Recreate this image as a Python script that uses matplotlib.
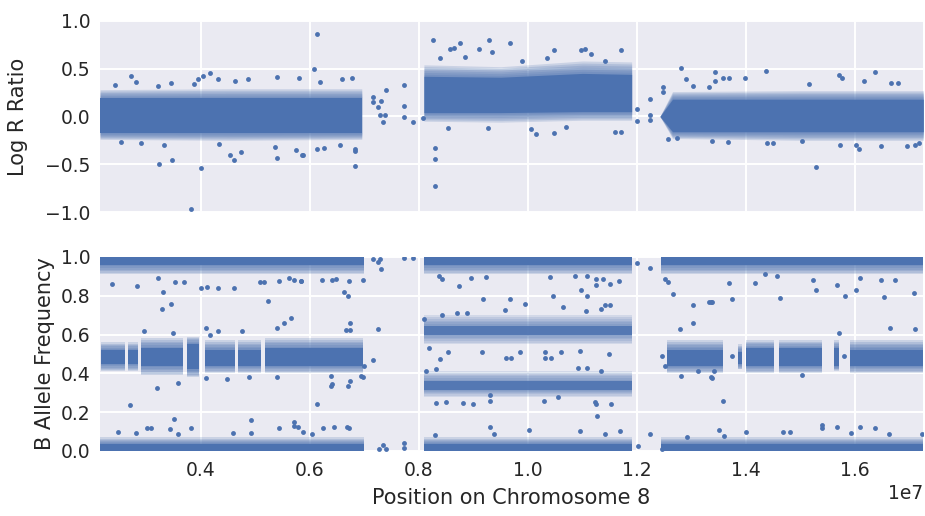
"""Log R Ratio / B Allele Frequency along chromosome 8.

Dense marker clouds are drawn as filled bands (solid core + soft fringe),
sparse outlier markers are listed point by point.
"""

import matplotlib
matplotlib.use('Agg')
import matplotlib.pyplot as plt

BLUE = '#4C72B0'

# ---- Log R Ratio: dense clouds (x nodes, core lo/hi, fringe lo/hi) ----
lrr_band_x = [
    [2.15e6, 4.5e6, 6.95e6],
    [8.09e6, 9.5e6, 11.0e6, 11.9e6],
    [12.42e6, 12.65e6, 15.0e6, 17.25e6],
]
lrr_core_lo = [[-0.17, -0.17, -0.17], [0.04, 0.04, 0.05, 0.05], [0.0, -0.16, -0.16, -0.16]]
lrr_core_hi = [[0.19, 0.19, 0.19], [0.42, 0.41, 0.45, 0.44], [0.0, 0.18, 0.18, 0.18]]
lrr_fringe_lo = [[-0.24, -0.25, -0.24], [-0.05, -0.06, -0.04, -0.04], [0.0, -0.23, -0.25, -0.25]]
lrr_fringe_hi = [[0.28, 0.29, 0.29], [0.54, 0.52, 0.58, 0.57], [0.0, 0.26, 0.27, 0.27]]

# ---- Log R Ratio: sparse markers ----
lrr_out_x = [2.72e6, 2.43e6, 2.80e6, 3.21e6, 3.46e6, 3.87e6, 3.95e6, 4.04e6, 4.16e6, 4.31e6,
             4.62e6, 4.86e6, 5.40e6, 5.79e6, 2.53e6, 2.91e6, 3.23e6, 3.47e6, 4.00e6, 3.82e6,
             3.33e6, 4.53e6, 4.61e6, 4.74e6, 5.39e6, 5.35e6, 5.75e6, 5.86e6, 4.34e6,
             6.12e6, 6.07e6, 6.18e6, 6.58e6, 6.78e6, 6.13e6, 6.26e6, 6.55e6, 6.83e6, 6.83e6,
             6.83e6, 5.87e6,
             7.16e6, 7.16e6, 7.31e6, 7.39e6, 7.25e6, 7.28e6, 7.37e6, 7.34e6, 7.72e6, 7.72e6,
             7.72e6, 7.89e6, 8.08e6,
             8.26e6, 8.56e6, 8.65e6, 8.76e6, 9.28e6, 9.10e6, 9.33e6, 8.29e6, 8.29e6, 8.29e6,
             8.54e6, 9.27e6, 8.38e6, 8.84e6,
             9.66e6, 10.48e6, 10.97e6, 11.04e6, 11.15e6, 11.71e6, 10.34e6, 9.89e6, 11.41e6,
             10.15e6, 10.06e6, 10.48e6, 10.70e6, 11.59e6, 11.70e6,
             11.99e6, 11.99e6, 12.24e6, 12.24e6, 12.24e6, 12.47e6, 12.47e6,
             12.80e6, 12.89e6, 13.03e6, 13.32e6, 12.57e6, 12.74e6,
             14.36e6, 13.43e6, 13.57e6, 13.69e6, 13.98e6, 13.43e6, 15.15e6, 15.70e6, 15.76e6,
             16.16e6, 16.37e6, 16.65e6, 16.79e6, 15.29e6, 16.07e6, 16.01e6, 15.73e6, 16.48e6,
             16.95e6, 17.10e6, 14.39e6, 14.49e6, 13.67e6, 15.02e6, 13.37e6, 17.17e6]
lrr_out_y = [0.42, 0.33, 0.36, 0.32, 0.35, 0.34, 0.39, 0.42, 0.45, 0.39,
             0.37, 0.39, 0.41, 0.40, -0.27, -0.28, -0.50, -0.46, -0.54, -0.97,
             -0.30, -0.40, -0.46, -0.37, -0.43, -0.32, -0.35, -0.40, -0.29,
             0.86, 0.50, 0.36, 0.39, 0.40, -0.345, -0.33, -0.30, -0.34, -0.36,
             -0.52, -0.40,
             0.205, 0.15, 0.16, 0.28, 0.10, 0.02, 0.01, -0.055, 0.33, 0.11,
             -0.01, -0.055, -0.02,
             0.80, 0.71, 0.72, 0.77, 0.80, 0.70, 0.67, -0.33, -0.45, -0.73,
             -0.125, -0.12, 0.61, 0.62,
             0.77, 0.69, 0.69, 0.70, 0.65, 0.69, 0.61, 0.58, 0.58,
             -0.185, -0.13, -0.17, -0.11, -0.16, -0.16,
             0.08, -0.05, 0.18, 0.02, -0.04, 0.31, 0.26,
             0.51, 0.39, 0.32, 0.31, -0.24, -0.23,
             0.48, 0.46, 0.40, 0.40, 0.40, 0.37, 0.34, 0.43, 0.40,
             0.37, 0.46, 0.35, 0.35, -0.53, -0.34, -0.30, -0.30, -0.31,
             -0.31, -0.30, -0.28, -0.28, -0.27, -0.26, -0.26, -0.28]

# ---- B Allele Frequency: homozygous bands near 0 and 1 ----
baf_seg_start = [2.15e6, 8.09e6, 12.44e6]
baf_seg_end = [7.0e6, 11.9e6, 17.25e6]
baf_top_core = [0.96, 0.96, 0.96]
baf_top_fringe = [0.91, 0.91, 0.91]
baf_bot_core = [0.035, 0.035, 0.035]
baf_bot_fringe = [0.07, 0.07, 0.07]

# ---- B Allele Frequency: heterozygous clusters (start, end, core lo/hi, fringe lo/hi) ----
het_start = [2.16e6, 2.66e6, 2.91e6, 3.75e6, 4.07e6, 4.68e6, 5.17e6,
             12.55e6, 13.85e6, 14.0e6, 14.6e6, 15.62e6, 15.9e6]
het_end = [2.60e6, 2.84e6, 3.67e6, 3.96e6, 4.62e6, 5.11e6, 6.97e6,
           13.57e6, 13.92e6, 14.52e6, 15.4e6, 15.70e6, 17.25e6]
het_core_lo = [0.45, 0.45, 0.44, 0.42, 0.44, 0.44, 0.44,
               0.44, 0.45, 0.44, 0.44, 0.44, 0.44]
het_core_hi = [0.52, 0.52, 0.53, 0.55, 0.52, 0.52, 0.53,
               0.52, 0.51, 0.53, 0.53, 0.53, 0.52]
het_fringe_lo = [0.41, 0.41, 0.39, 0.38, 0.40, 0.40, 0.40,
                 0.40, 0.42, 0.40, 0.40, 0.41, 0.40]
het_fringe_hi = [0.56, 0.56, 0.58, 0.59, 0.57, 0.57, 0.58,
                 0.57, 0.55, 0.57, 0.57, 0.57, 0.57]

# allelic imbalance bands in the gained region
imb_start = [8.09e6, 8.09e6]
imb_end = [11.9e6, 11.9e6]
imb_core_lo = [0.60, 0.315]
imb_core_hi = [0.645, 0.36]
imb_fringe_lo = [0.55, 0.28]
imb_fringe_hi = [0.70, 0.41]

# ---- B Allele Frequency: sparse markers ----
baf_out_x = [2.37e6, 2.83e6, 3.30e6, 3.53e6, 3.69e6, 3.21e6, 4.01e6, 4.11e6, 4.32e6, 4.60e6,
             5.08e6, 5.16e6, 5.43e6, 5.61e6, 5.71e6, 5.83e6, 5.23e6, 3.29e6, 3.45e6, 5.65e6,
             5.52e6, 5.39e6, 2.95e6, 3.49e6, 4.10e6, 4.32e6, 4.75e6, 4.16e6, 3.19e6, 3.58e6,
             2.70e6, 4.10e6, 4.47e6, 4.88e6, 5.40e6, 3.50e6, 3.01e6, 3.08e6, 2.48e6, 2.80e6,
             3.44e6, 3.58e6, 3.82e6, 4.92e6, 4.92e6, 4.58e6, 5.43e6, 5.71e6, 5.71e6, 5.78e6,
             6.22e6, 6.40e6, 6.48e6, 6.72e6, 6.97e6, 5.84e6, 6.62e6, 6.69e6, 7.25e6, 6.73e6,
             6.66e6, 6.74e6, 7.16e6, 6.99e6, 6.94e6, 6.97e6, 6.73e6, 6.39e6, 6.39e6, 6.41e6,
             6.69e6, 6.12e6, 5.87e6, 6.23e6, 6.44e6, 6.68e6, 6.72e6, 6.03e6,
             7.16e6, 7.25e6, 7.30e6, 7.28e6, 7.72e6, 7.89e6, 7.26e6, 7.34e6, 7.39e6, 7.72e6,
             7.72e6,
             8.37e6, 8.43e6, 8.73e6, 8.95e6, 9.22e6, 9.17e6, 8.43e6, 8.70e6, 8.88e6, 9.57e6,
             8.10e6, 8.18e6, 8.54e6, 8.39e6, 9.16e6, 9.59e6, 8.32e6, 8.50e6, 8.81e6, 8.99e6,
             9.30e6, 9.30e6, 8.12e6, 8.32e6, 9.31e6, 9.38e6, 8.29e6,
             10.41e6, 10.86e6, 11.08e6, 11.25e6, 11.37e6, 11.24e6, 11.50e6, 11.67e6, 10.98e6,
             11.09e6, 10.45e6, 9.66e6, 9.94e6, 10.64e6, 11.07e6, 11.33e6, 11.41e6, 11.50e6,
             9.85e6, 10.32e6, 10.42e6, 10.32e6, 10.61e6, 10.95e6, 11.48e6, 9.68e6, 10.92e6,
             11.09e6, 11.33e6, 10.29e6, 10.55e6, 11.22e6, 11.24e6, 11.52e6, 11.27e6, 10.01e6,
             10.95e6, 11.41e6, 11.68e6,
             11.99e6, 12.24e6, 12.23e6, 12.01e6, 12.45e6,
             12.51e6, 12.57e6, 12.66e6, 13.03e6, 13.03e6, 13.35e6, 12.78e6, 12.80e6, 13.11e6,
             13.36e6, 12.52e6, 12.45e6, 12.91e6,
             13.69e6, 14.17e6, 14.35e6, 14.56e6, 15.23e6, 15.29e6, 15.66e6, 15.82e6, 16.01e6,
             16.09e6, 16.47e6, 16.53e6, 16.73e6, 17.08e6, 13.37e6, 13.74e6, 14.62e6, 16.64e6,
             17.10e6, 15.71e6, 13.75e6, 15.79e6, 13.41e6, 13.37e6, 15.03e6, 13.58e6, 13.50e6,
             13.59e6, 14.00e6, 14.68e6, 14.80e6, 15.40e6, 15.40e6, 15.66e6, 15.93e6, 16.09e6,
             16.37e6, 16.62e6, 17.22e6, 13.32e6]
baf_out_y = [0.86, 0.85, 0.82, 0.87, 0.87, 0.89, 0.84, 0.845, 0.84, 0.84,
             0.87, 0.87, 0.875, 0.89, 0.88, 0.875, 0.775, 0.73, 0.76, 0.685,
             0.66, 0.634, 0.617, 0.61, 0.634, 0.617, 0.617, 0.60, 0.325, 0.35,
             0.235, 0.376, 0.37, 0.38, 0.38, 0.167, 0.12, 0.12, 0.10, 0.095,
             0.115, 0.09, 0.12, 0.16, 0.095, 0.095, 0.12, 0.15, 0.13, 0.125,
             0.88, 0.88, 0.885, 0.875, 0.88, 0.875, 0.82, 0.80, 0.63, 0.66,
             0.625, 0.625, 0.47, 0.44, 0.385, 0.38, 0.36, 0.385, 0.335, 0.345,
             0.335, 0.24, 0.10, 0.12, 0.125, 0.125, 0.12, 0.09,
             0.99, 0.975, 0.94, 0.99, 0.995, 0.995, 0.01, 0.03, 0.01, 0.04,
             0.015,
             0.90, 0.885, 0.85, 0.89, 0.895, 0.785, 0.70, 0.71, 0.71, 0.725,
             0.68, 0.53, 0.51, 0.475, 0.51, 0.48, 0.245, 0.25, 0.245, 0.24,
             0.287, 0.26, 0.41, 0.425, 0.125, 0.085, 0.08,
             0.895, 0.90, 0.90, 0.885, 0.885, 0.857, 0.86, 0.875, 0.83,
             0.80, 0.80, 0.785, 0.76, 0.74, 0.72, 0.73, 0.75, 0.755,
             0.51, 0.51, 0.48, 0.48, 0.51, 0.515, 0.50, 0.48, 0.43,
             0.43, 0.41, 0.256, 0.28, 0.255, 0.24, 0.24, 0.18, 0.11,
             0.105, 0.085, 0.105,
             0.97, 0.945, 0.085, 0.026, 0.01,
             0.885, 0.87, 0.81, 0.75, 0.66, 0.77, 0.63, 0.387, 0.41,
             0.38, 0.44, 0.49, 0.07,
             0.866, 0.866, 0.91, 0.90, 0.88, 0.83, 0.855, 0.80, 0.83,
             0.89, 0.88, 0.795, 0.88, 0.815, 0.77, 0.785, 0.79, 0.635,
             0.63, 0.61, 0.49, 0.49, 0.41, 0.376, 0.39, 0.26, 0.107,
             0.077, 0.10, 0.10, 0.10, 0.135, 0.12, 0.125, 0.095, 0.125,
             0.12, 0.09, 0.09, 0.77]

XLIM = (2.147e6, 1.7242e7)


def band(ax, x, lo, hi, flo, fhi, core_alpha=1.0, steps=6, step_alpha=0.2):
    """Solid core with a fringe that fades out in a few steps."""
    for k in range(steps, 0, -1):
        f = k / steps
        ax.fill_between(x,
                        [l - (l - fl) * f for l, fl in zip(lo, flo)],
                        [h + (fh - h) * f for h, fh in zip(hi, fhi)],
                        color=BLUE, alpha=step_alpha, lw=0, zorder=2)
    ax.fill_between(x, lo, hi, color=BLUE, alpha=core_alpha, lw=0, zorder=3)


def main():
    plt.rcParams.update({
        'font.family': ['DejaVu Sans'],
        'text.color': '#262626',
        'axes.labelcolor': '#262626',
        'xtick.color': '#262626',
        'ytick.color': '#262626',
        'axes.facecolor': '#EAEAF2',
        'axes.edgecolor': 'white',
        'grid.color': 'white',
        'grid.linewidth': 1.4,
    })

    fig = plt.figure(figsize=(9.25, 5.16), dpi=100)
    lrr = fig.add_axes([0.108, 0.589, 0.8897, 0.3707])
    baf = fig.add_axes([0.108, 0.126, 0.8897, 0.376], sharex=lrr)

    for ax in (lrr, baf):
        ax.grid(True, zorder=0)
        ax.set_axisbelow(True)
        for s in ax.spines.values():
            s.set_visible(False)
        ax.tick_params(length=0, pad=7, labelsize=13.5)

    # Log R Ratio
    for i in range(len(lrr_band_x)):
        band(lrr, lrr_band_x[i], lrr_core_lo[i], lrr_core_hi[i],
             lrr_fringe_lo[i], lrr_fringe_hi[i])
    lrr.plot(lrr_out_x, lrr_out_y, 'o', color=BLUE, ms=3.5, mew=0, zorder=4)
    lrr.set_ylim(-1, 1)
    lrr.set_yticks([-1.0, -0.5, 0.0, 0.5, 1.0])
    lrr.set_ylabel('Log R Ratio', fontsize=15, labelpad=12)
    plt.setp(lrr.get_xticklabels(), visible=False)
    lrr.xaxis.get_offset_text().set_visible(False)

    # B Allele Frequency
    for i in range(len(baf_seg_start)):
        xs = [baf_seg_start[i], baf_seg_end[i]]
        band(baf, xs, [baf_top_core[i]] * 2, [1.0, 1.0],
             [baf_top_fringe[i]] * 2, [1.0, 1.0])
        band(baf, xs, [0.0, 0.0], [baf_bot_core[i]] * 2,
             [0.0, 0.0], [baf_bot_fringe[i]] * 2)
    for i in range(len(het_start)):
        xs = [het_start[i], het_end[i]]
        band(baf, xs, [het_core_lo[i]] * 2, [het_core_hi[i]] * 2,
             [het_fringe_lo[i]] * 2, [het_fringe_hi[i]] * 2)
    for i in range(len(imb_start)):
        xs = [imb_start[i], imb_end[i]]
        band(baf, xs, [imb_core_lo[i]] * 2, [imb_core_hi[i]] * 2,
             [imb_fringe_lo[i]] * 2, [imb_fringe_hi[i]] * 2,
             core_alpha=0.85, step_alpha=0.15)
    baf.plot(baf_out_x, baf_out_y, 'o', color=BLUE, ms=3.5, mew=0, zorder=4)
    baf.set_ylim(0, 1)
    baf.set_yticks([0.0, 0.2, 0.4, 0.6, 0.8, 1.0])
    baf.set_ylabel('B Allele Frequency', fontsize=15)
    baf.set_xlabel('Position on Chromosome 8', fontsize=15, labelpad=6)
    baf.set_xlim(*XLIM)
    baf.set_xticks([4e6, 6e6, 8e6, 10e6, 12e6, 14e6, 16e6])
    baf.xaxis.get_offset_text().set_fontsize(13.5)

    fig.align_ylabels([lrr, baf])
    fig.savefig('out.png', dpi=100, facecolor='white')


if __name__ == '__main__':
    main()
